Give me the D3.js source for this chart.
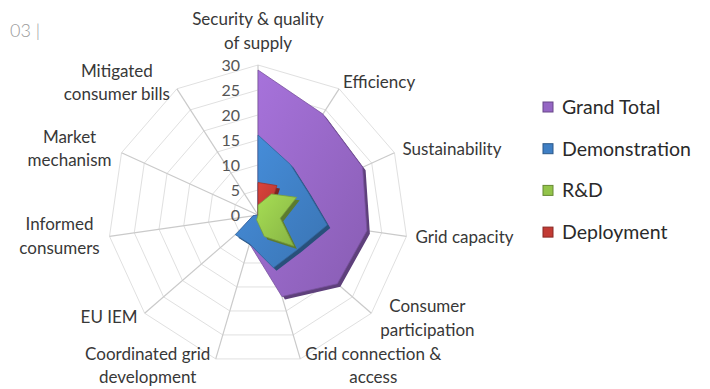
<!DOCTYPE html>
<html>
<head>
<meta charset="utf-8">
<script src="https://cdn.jsdelivr.net/npm/d3@7"></script>
<style>
  body { margin: 0; background: #fff; }
  text { font-family: Lato, "Liberation Sans", sans-serif; }
</style>
</head>
<body>
<div id="main"></div>
<script>
// axis names, "|" marks a line break
const categories = [
  "Security & quality|of supply", "Efficiency", "Sustainability", "Grid capacity",
  "Consumer|participation", "Grid connection &|access", "Coordinated grid|development",
  "EU IEM", "Informed|consumers", "Market|mechanism", "Mitigated|consumer bills"
];
const grandTotal    = [29, 24, 23, 22, 21, 17, 6, 5, 1, 0, 0];
const demonstration = [16, 12, 11, 14, 10.5, 11, 6, 6, 1, 0, 0];
const rnd           = [2, 5, 8.5, 4.5, 9.5, 4.5, 1, 0, 0, 0, 0];
const deployment    = [6.5, 7, 2.5, 2, 1, 0.5, 0, 0, 0, 0, 0];
const seriesNames = ["Grand Total", "Demonstration", "R&D", "Deployment"];
const tickValues = [0, 5, 10, 15, 20, 25, 30];

// label placement relative to the end of each spoke
const labelPos = [
  {a: "middle", dx: 0, dy: -40}, {a: "start", dx: 4, dy: -1}, {a: "start", dx: 8, dy: 2},
  {a: "start", dx: 9, dy: 7}, {a: "middle", dx: 56, dy: -1}, {a: "middle", dx: 73, dy: 1},
  {a: "middle", dx: -68, dy: 1}, {a: "end", dx: -7, dy: 10}, {a: "middle", dx: -50, dy: -6},
  {a: "middle", dx: -52, dy: -10}, {a: "middle", dx: -60, dy: -12}
];

class Radar {
  constructor(config) {
    this.config = config;
    this.svg = null;
    this.rScale = null;
    this.angle = null;
    this.createSvg();
    this.createScales();
  }

  createSvg() {
    this.svg = d3.select(this.config.div)
      .append("svg")
      .attr("width", this.config.width)
      .attr("height", this.config.height);

    const defs = this.svg.append("defs");
    this.config.colors.forEach((c, i) => {
      const g = defs.append("linearGradient")
        .attr("id", "grad" + i)
        .attr("x1", "0%").attr("y1", "0%").attr("x2", "100%").attr("y2", "100%");
      g.append("stop").attr("offset", "0%").attr("stop-color", d3.color(c).brighter(0.35));
      g.append("stop").attr("offset", "100%").attr("stop-color", d3.color(c).darker(0.25));
    });

    this.svg.append("text")
      .attr("x", 10).attr("y", 37)
      .attr("font-size", 18)
      .attr("font-weight", 300)
      .attr("fill", "#9a9a9a")
      .text("03 |");
  }

  createScales() {
    this.rScale = d3.scaleLinear().domain([0, 30]).range([0, this.config.radius]);
    this.angle = d3.scaleLinear().domain([0, categories.length]).range([0, 2 * Math.PI]);
  }

  point(i, v) {
    const a = this.angle(i);
    return [this.config.cx + this.rScale(v) * Math.sin(a), this.config.cy - this.rScale(v) * Math.cos(a)];
  }

  createGrid() {
    const g = this.svg.append("g");
    const idx = d3.range(categories.length);

    g.selectAll(".ring")
      .data(tickValues.slice(1))
      .join("polygon")
      .attr("points", t => idx.map(i => this.point(i, t).join(",")).join(" "))
      .attr("fill", "none")
      .attr("stroke", "#e0e0e0")
      .attr("stroke-width", 1);

    g.selectAll(".spoke")
      .data(idx)
      .join("line")
      .attr("x1", this.config.cx).attr("y1", this.config.cy)
      .attr("x2", i => this.point(i, 30)[0])
      .attr("y2", i => this.point(i, 30)[1])
      .attr("stroke", "#cacaca")
      .attr("stroke-width", 1.2);

    g.selectAll(".tick")
      .data(tickValues)
      .join("text")
      .attr("x", this.config.cx - 18)
      .attr("y", t => this.config.cy - this.rScale(t) + 6)
      .attr("text-anchor", "end")
      .attr("font-size", 16)
      .attr("fill", "#555")
      .text(t => t);
  }

  createSeries(series) {
    const g = this.svg.append("g");
    series.forEach((s, k) => {
      const pts = s.values.map((v, i) => this.point(i, v));
      // dark rim for the bevelled look
      g.append("polygon")
        .attr("points", pts.map(p => [p[0] + 3, p[1] + 3].join(",")).join(" "))
        .attr("fill", d3.color(s.color).darker(1.3));
      g.append("polygon")
        .attr("points", pts.map(p => p.join(",")).join(" "))
        .attr("fill", `url(#grad${s.grad})`)
        .attr("stroke", d3.color(s.color).darker(0.6))
        .attr("stroke-width", 0.8);
    });
  }

  createLabels() {
    const g = this.svg.append("g");
    categories.forEach((c, i) => {
      const p = this.point(i, 30);
      const t = g.append("text")
        .attr("x", p[0] + labelPos[i].dx)
        .attr("y", p[1] + labelPos[i].dy)
        .attr("text-anchor", labelPos[i].a)
        .attr("font-size", 17)
        .attr("fill", "#383838");
      c.split("|").forEach((line, j) => {
        t.append("tspan")
          .attr("x", p[0] + labelPos[i].dx)
          .attr("dy", j === 0 ? 0 : 23.5)
          .text(line);
      });
    });
  }

  createLegend() {
    const g = this.svg.append("g").attr("transform", "translate(543,107)");
    const rows = g.selectAll("g")
      .data(seriesNames)
      .join("g")
      .attr("transform", (d, i) => `translate(0,${i * 41.7})`);
    rows.append("rect")
      .attr("x", 0).attr("y", -5)
      .attr("width", 10).attr("height", 10)
      .attr("fill", (d, i) => this.config.colors[i])
      .attr("stroke", (d, i) => d3.color(this.config.colors[i]).darker(1))
      .attr("stroke-width", 1);
    rows.append("text")
      .attr("x", 19).attr("y", 7)
      .attr("font-size", 19.5)
      .attr("fill", "#2a2a2a")
      .text(d => d);
  }
}

function main() {
  const c = {
    div: "#main", width: 710, height: 389, cx: 258, cy: 215, radius: 150,
    colors: ["#9566c4", "#3f7fc4", "#93c44a", "#c23b34"]
  };
  const r = new Radar(c);
  r.createGrid();
  r.createSeries([
    {values: grandTotal, color: c.colors[0], grad: 0},
    {values: demonstration, color: c.colors[1], grad: 1},
    {values: deployment, color: c.colors[3], grad: 3},
    {values: rnd, color: c.colors[2], grad: 2}
  ]);
  r.createLabels();
  r.createLegend();
}

main();
</script>
</body>
</html>
